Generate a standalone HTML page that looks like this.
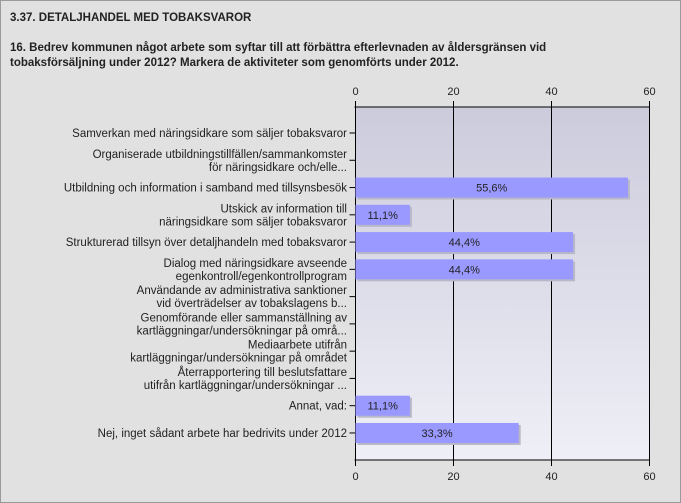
<!DOCTYPE html>
<html><head><meta charset="utf-8"><style>
body{margin:0;width:681px;height:503px;background:#e1e1e1;font-family:"Liberation Sans",sans-serif;overflow:hidden}
#frame{position:absolute;left:0;top:0;width:679px;height:501px;border:1px solid #9a9a9a}
.t{position:absolute;left:10px;font-size:11.5px;font-weight:bold;color:#222}
</style></head><body>
<div id="frame"></div>
<div class="t" style="top:12px">3.37. DETALJHANDEL MED TOBAKSVAROR</div>
<div class="t" style="top:41px;line-height:15px;width:600px">16. Bedrev kommunen något arbete som syftar till att förbättra efterlevnaden av åldersgränsen vid tobaksförsäljning under 2012? Markera de aktiviteter som genomförts under 2012.</div>
<svg id="c" width="681" height="503" style="position:absolute;left:0;top:0" font-family="Liberation Sans, sans-serif" font-size="11">
<defs><linearGradient id="g" x1="0" y1="0" x2="0" y2="1"><stop offset="0" stop-color="#cbcbdc"/><stop offset="1" stop-color="#efeff7"/></linearGradient></defs>
</svg>
<script>
const categories=[["Samverkan med näringsidkare som säljer tobaksvaror"],["Organiserade utbildningstillfällen/sammankomster","för näringsidkare och/elle..."],["Utbildning och information i samband med tillsynsbesök"],["Utskick av information till","näringsidkare som säljer tobaksvaror"],["Strukturerad tillsyn över detaljhandeln med tobaksvaror"],["Dialog med näringsidkare avseende","egenkontroll/egenkontrollprogram"],["Användande av administrativa sanktioner","vid överträdelser av tobakslagens b..."],["Genomförande eller sammanställning av","kartläggningar/undersökningar på områ..."],["Mediaarbete utifrån","kartläggningar/undersökningar på området"],["Återrapportering till beslutsfattare","utifrån kartläggningar/undersökningar ..."],["Annat, vad:"],["Nej, inget sådant arbete har bedrivits under 2012"]];
const values=[0,0,55.6,11.1,44.4,44.4,0,0,0,0,11.1,33.3];
const ticks=[0,20,40,60];
const svg=document.getElementById('c');const NS='http://www.w3.org/2000/svg';
const L=355.5,R=649.5,T=107,B=460,MAX=60;
const x=v=>L+(R-L)*v/MAX;
const y=i=>133+27.27*i;
function mk(t,a,p){const e=document.createElementNS(NS,t);for(const k in a)e.setAttribute(k,a[k]);(p||svg).appendChild(e);return e;}
const bg=mk('rect',{x:L,y:T,width:R-L,height:B-T,fill:'url(#g)'});


ticks.forEach(t=>{
 const gl=mk('line',{x1:x(t),x2:x(t),y1:T-6,y2:B+6,stroke:'#000'});
 
 
 [T-12,B+20].forEach((yy,k)=>{const tx=mk('text',{x:x(t),y:yy,'text-anchor':'middle',fill:'#222'});tx.textContent=t;
 
 });
});
[T,B].forEach(yy=>{const a=mk('line',{x1:L-1,x2:R,y1:yy,y2:yy,stroke:'#000'});
 
 });
const ya=mk('line',{x1:L,x2:L,y1:T,y2:B+6,stroke:'#000'});


categories.forEach((c,i)=>{
 const cy=y(i);
 const tk=mk('line',{x1:L-6,x2:L,y1:cy,y2:cy,stroke:'#000'});
 
 
 const tx=mk('text',{'text-anchor':'end',fill:'#222','font-size':'11.5'});
 
 
 c.forEach((ln,k)=>{const ts=mk('tspan',{x:347,y:cy+4+(k-(c.length-1)/2)*13},tx);ts.textContent=ln;});
 if(values[i]>0){
  const sh=mk('rect',{x:L+2,y:cy-8,width:x(values[i])-L,height:20,fill:'#b8b8c8'});
  
  
  const b=mk('rect',{x:L,y:cy-10,width:x(values[i])-L,height:20,fill:'#9999ff'});
  
  
  const v=mk('text',{x:(L+x(values[i]))/2,y:cy+4,'text-anchor':'middle',fill:'#222'});
  v.textContent=values[i].toFixed(1).replace('.',',')+'%';
  
  
 }
});
</script>
</body></html>
